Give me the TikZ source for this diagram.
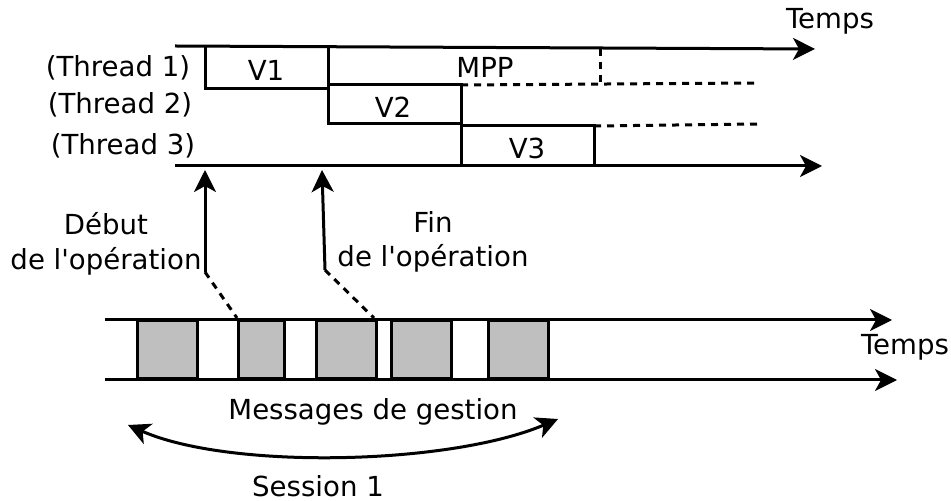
\documentclass[tikz,border=0pt]{standalone}
\usepackage{fontspec}
\setmainfont{DejaVu Sans}
\usetikzlibrary{arrows.meta}

\begin{document}
\begin{tikzpicture}[x=0.5pt, y=-0.5pt, line width=1.5pt,
          >={Stealth[length=11pt, width=11pt, inset=3pt]},
          every node/.style={align=center, inner sep=0pt, font=\fontsize{13.8}{17}\selectfont},
          axis/.style={->},
          trail/.style={dash pattern=on 3.5pt off 3pt},
          msg/.style={draw, fill=gray!50}]
            \useasboundingbox (0,0) rectangle (951,501);
            % Threads
            \coordinate (t0) at (175,46);
            \coordinate (t1) at (815,49);
            \coordinate (b0) at (175,166);
            \coordinate (b1) at (822,166);
            \draw[axis] (t0) -- (t1);
            \draw[axis] (b0) -- (b1);
            \node (temps1) at (830,21) {Temps};
            \node (thr1) at (118,68) {(Thread 1)};
            \node (thr2) at (120,105) {(Thread 2)};
            \node (thr3) at (123,146) {(Thread 3)};
            \draw (205,47) -- (205,89) -- (328,89) -- (328,48);
            \draw (328,89) -- (328,124) -- (461,124);
            \draw (328,85) -- (461,85) -- (461,166);
            \draw (461,126) -- (594,126) -- (594,166);
            \draw[trail] (461,85) -- (755,83);
            \draw[trail] (594,126) -- (758,124);
            \draw[trail] (600,49) -- (600,83);
            \node (v1) at (266,70) {V1};
            \node (mpp) at (485,67) {MPP};
            \node (v2) at (393,107) {V2};
            \node (v3) at (527,148) {V3};
            % Operation
            \coordinate (d0) at (205,272);
            \coordinate (d1) at (205,170);
            \coordinate (f0) at (325,270);
            \coordinate (f1) at (322,170);
            \coordinate (dm) at (237,318);
            \coordinate (fm) at (374,318);
            \draw[axis] (d0) -- (d1);
            \draw[axis] (f0) -- (f1);
            \draw[trail] (d0) -- (dm);
            \draw[trail] (f0) -- (fm);
            \node (debut) at (106,224) {Début};
            \node (debop) at (106,261) {de l\textquotesingle opération};
            \node (fin) at (433,222) {Fin};
            \node (finop) at (433,258) {de l\textquotesingle opération};
            % Messages
            \coordinate (m0) at (105,320);
            \coordinate (m1) at (892,320);
            \coordinate (n0) at (105,380);
            \coordinate (n1) at (897,380);
            \draw[axis] (m0) -- (m1);
            \draw[axis] (n0) -- (n1);
            \draw[msg] (137,321) rectangle (197,379);
            \draw[msg] (238,321) rectangle (284,379);
            \draw[msg] (316,321) rectangle (376,379);
            \draw[msg] (391,321) rectangle (451,379);
            \draw[msg] (488,321) rectangle (548,379);
            \node (temps2) at (905,347) {Temps};
            \node (gestion) at (373,412) {Messages de gestion};
            % Session
            \coordinate (s0) at (128,425);
            \coordinate (s1) at (558,419);
            \draw[<->] (s0) .. controls (230,470) and (450,465) .. (s1);
            \node (session) at (318,486) {Session 1};
        \end{tikzpicture}
\end{document}
